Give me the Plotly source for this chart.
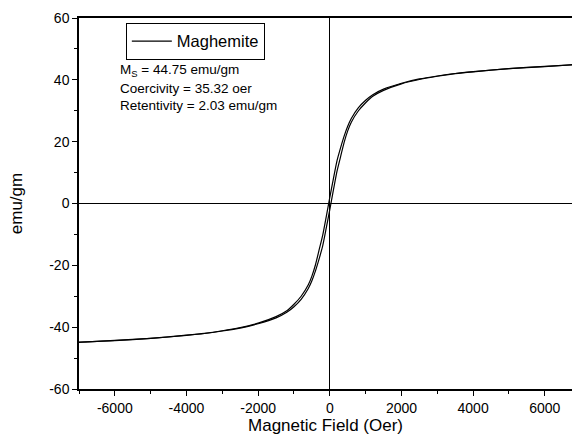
import plotly.graph_objects as go

# Field values (Oe) shared by both branches
field = [-7000, -6000, -5000, -4000, -3500, -3000, -2500, -2000, -1500, -1200,
         -1000, -800, -600, -500, -400, -300, -200, -100, 0, 100, 200, 300,
         400, 500, 600, 800, 1000, 1200, 1500, 2000, 2500, 3000, 3500, 4000,
         5000, 6000, 6760]

# Descending-field branch (upper)
m_upper = [-44.9, -44.3, -43.6, -42.6, -42.0, -41.15, -40.1, -38.7, -36.6, -34.7,
           -32.6, -30.0, -26.3, -23.5, -19.8, -15.1, -10.4, -4.3, 2.0, 8.0, 13.8, 18.0,
           21.8, 25.0, 27.5, 31.0, 33.4, 35.2, 37.0, 38.9, 40.3, 41.25, 42.05, 42.65,
           43.65, 44.35, 44.8]

# Ascending-field branch (lower)
m_lower = [-44.8, -44.35, -43.65, -42.65, -42.05, -41.25, -40.3, -38.9, -37.0, -35.2,
           -33.4, -31.0, -27.5, -25.0, -21.8, -18.0, -13.8, -8.0, -2.0, 4.3, 10.4, 15.1,
           19.8, 23.5, 26.3, 30.0, 32.6, 34.7, 36.6, 38.7, 40.1, 41.15, 42.0, 42.6,
           43.6, 44.3, 44.9]

x_ticks = [-6000, -4000, -2000, 0, 2000, 4000, 6000]
y_ticks = [-60, -40, -20, 0, 20, 40, 60]

series_name = "Maghemite"
info_lines = ["M<sub>S</sub> = 44.75 emu/gm", "Coercivity = 35.32 oer", "Retentivity = 2.03 emu/gm"]
info_y = [0.858, 0.81, 0.764]

FONT = "Liberation Sans, Arial, sans-serif"

fig = go.Figure()
# upper branch (field decreasing) shown in legend, lower branch shares the legend entry
fig.add_trace(go.Scatter(x=list(reversed(field)), y=list(reversed(m_upper)), mode="lines",
                         name=series_name, legendgroup="m",
                         line=dict(color="black", width=1.2, shape="spline", smoothing=0.6)))
fig.add_trace(go.Scatter(x=field, y=m_lower, mode="lines",
                         name=series_name, legendgroup="m", showlegend=False,
                         line=dict(color="black", width=1.2, shape="spline", smoothing=0.6)))

annots = [dict(x=0.079, y=yy, xref="paper", yref="paper",
               xanchor="left", yanchor="middle", align="left", showarrow=False,
               text=t, font=dict(size=13.5, family=FONT))
          for t, yy in zip(info_lines, info_y)]

fig.update_layout(
    width=572, height=446,
    margin=dict(l=79, r=0, t=18, b=57),
    paper_bgcolor="white", plot_bgcolor="white",
    font=dict(family=FONT, color="black", size=14),
    showlegend=True,
    legend=dict(x=0.095, y=0.987, xanchor="left", yanchor="top",
                bordercolor="black", borderwidth=1, bgcolor="white",
                font=dict(size=16.5, family=FONT), itemwidth=40),
    annotations=annots,
)

fig.update_xaxes(range=[-7000, 6760], tickvals=x_ticks, ticktext=[str(v) for v in x_ticks],
                 showgrid=False, zeroline=True, zerolinecolor="black", zerolinewidth=1,
                 showline=True, linecolor="black", linewidth=1.5, mirror=True,
                 ticks="outside", ticklen=5, tickwidth=1.2, tickcolor="black",
                 minor=dict(dtick=1000, tick0=0, ticks="outside", ticklen=3, tickcolor="black", tickwidth=1),
                 tickfont=dict(size=14),
                 title=dict(text="Magnetic Field (Oer)", font=dict(size=17), standoff=2))
fig.update_yaxes(range=[-60, 60], tickvals=y_ticks, ticktext=[str(v) for v in y_ticks],
                 showgrid=False, zeroline=True, zerolinecolor="black", zerolinewidth=1,
                 showline=True, linecolor="black", linewidth=1.5,
                 ticks="outside", ticklen=5, tickwidth=1.2, tickcolor="black",
                 minor=dict(dtick=10, tick0=0, ticks="outside", ticklen=3, tickcolor="black", tickwidth=1),
                 tickfont=dict(size=14),
                 title=dict(text="emu/gm", font=dict(size=17), standoff=22))

fig.write_html("out.html")
